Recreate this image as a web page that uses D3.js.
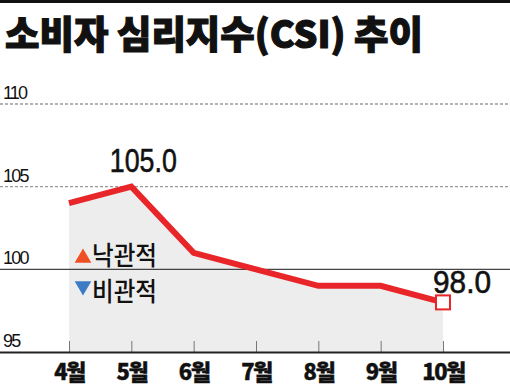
<!DOCTYPE html>
<html><head><meta charset="utf-8">
<script src="https://cdn.jsdelivr.net/npm/d3@7"></script>
<style>body{margin:0;background:#fff}svg{display:block}</style>
</head><body>
<script>
const months = ["4월","5월","6월","7월","8월","9월","10월"];
const csi = [104, 105, 101, 100, 99, 99, 98];
const yTicks = [95, 100, 105, 110];
const title = "소비자 심리지수(CSI) 추이";
const legendItems = ["낙관적","비관적"];

const W = 510, H = 386;
const svg = d3.select("body").append("svg").attr("width", W).attr("height", H);
const kr = "'Noto Sans CJK KR', sans-serif";
const num = "'Liberation Sans', Arial, sans-serif";

svg.append("rect").attr("x",0).attr("y",0).attr("width",W).attr("height",3).attr("fill","#111");
svg.append("text").attr("x",5).attr("y",48).text(title)
  .attr("font-family",kr).attr("font-weight",900).attr("font-size",38)
  .attr("stroke","#111").attr("stroke-width",1.2)
  .attr("textLength",418).attr("lengthAdjust","spacingAndGlyphs").attr("fill","#111");

const x = d3.scalePoint().domain(months).range([69, 443]);
const y = d3.scaleLinear().domain([95, 110]).range([352, 104]);

// area
const area = d3.area().x((d,i)=>x(months[i])).y0(y(95)).y1(d=>y(d));
svg.append("path").datum(csi).attr("d", area).attr("fill","#ededed");

// gridlines
yTicks.forEach(t=>{
  if (t===95) return;
  const solid = t===100;
  svg.append("line").attr("x1",0).attr("x2",W).attr("y1",y(t)).attr("y2",y(t))
    .attr("stroke", solid ? "#444" : "#999").attr("stroke-width", solid?1.2:1.3)
    .attr("stroke-dasharray", solid ? null : "3,2");
});
yTicks.forEach(t=>{
  svg.append("text").attr("x",3).attr("y",y(t)-5).text(t)
    .attr("font-family",num).attr("font-size",18).attr("fill","#111")
    .attr("letter-spacing",-1.8);
});

// x axis
const xAxis = d3.axisBottom(x).tickSize(0).tickPadding(0);
const gx = svg.append("g").attr("transform",`translate(0,${y(95)})`).call(xAxis);
gx.select(".domain").remove();
gx.selectAll(".tick line").remove();
gx.selectAll(".tick").append("line").attr("y1",-11).attr("y2",0).attr("stroke","#777").attr("stroke-width",1);
gx.selectAll(".tick text").attr("y",28).attr("dy",0)
  .attr("font-family",kr).attr("font-weight",900).attr("font-size",22).attr("fill","#111")
  .attr("stroke","#111").attr("stroke-width",0.4)
  .attr("letter-spacing",-1.5);
svg.append("line").attr("x1",0).attr("x2",W).attr("y1",y(95)+0.5).attr("y2",y(95)+0.5)
  .attr("stroke","#222").attr("stroke-width",2);

// line
const line = d3.line().x((d,i)=>x(months[i])).y(d=>y(d));
svg.append("path").datum(csi).attr("d", line).attr("fill","none")
  .attr("stroke","#e8262a").attr("stroke-width",6).attr("stroke-linejoin","miter");

// end marker
const li = csi.length-1;
svg.append("rect").attr("x",x(months[li])-7).attr("y",y(csi[li])-7).attr("width",14).attr("height",14)
  .attr("fill","#fff").attr("stroke","#e8262a").attr("stroke-width",2);

// value labels
svg.append("text").attr("x",x(months[1])+12).attr("y",172).attr("text-anchor","middle").text(csi[1].toFixed(1))
  .attr("font-family",num).attr("font-size",34).attr("fill","#111")
  .attr("stroke","#111").attr("stroke-width",0.6)
  .attr("textLength",67).attr("lengthAdjust","spacingAndGlyphs");
svg.append("text").attr("x",462).attr("y",293).attr("text-anchor","middle").text(csi[li].toFixed(1))
  .attr("font-family",num).attr("font-size",31).attr("fill","#111")
  .attr("stroke","#111").attr("stroke-width",0.6)
  .attr("textLength",58).attr("lengthAdjust","spacingAndGlyphs");

// legend
const tri = d3.symbol().type(d3.symbolTriangle).size(120);
svg.append("path").attr("d",tri).attr("transform","translate(83,258)").attr("fill","#f04e23");
svg.append("path").attr("d",tri).attr("transform","translate(83,286) rotate(180)").attr("fill","#3d7cc4");
legendItems.forEach((t,i)=>{
  svg.append("text").attr("x",92).attr("y",265+i*36).text(t)
    .attr("font-family",kr).attr("font-weight",500).attr("font-size",26).attr("fill","#111")
    .attr("textLength",65).attr("lengthAdjust","spacingAndGlyphs");
});
</script>
</body></html>
